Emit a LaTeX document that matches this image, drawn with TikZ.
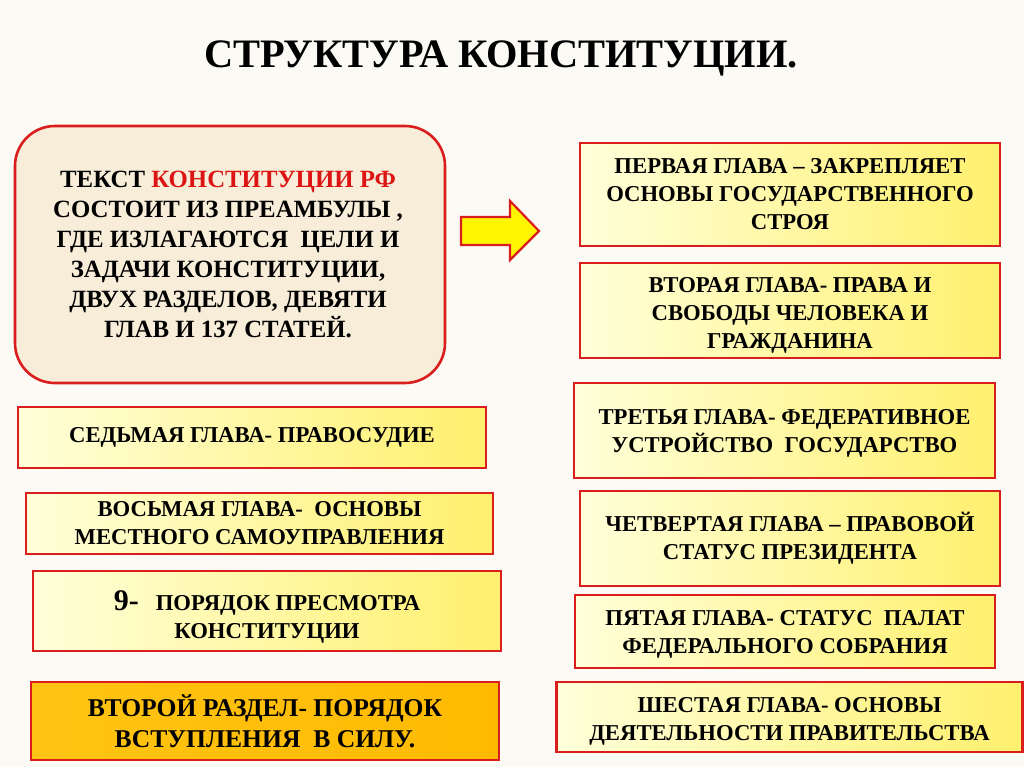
\documentclass[tikz,border=0pt]{standalone}
\usepackage{fontspec}
\setmainfont{Liberation Serif}
\definecolor{bg}{RGB}{252,250,245}
\definecolor{bred}{RGB}{218,30,30}
\definecolor{ylo}{RGB}{255,255,218}
\definecolor{yhi}{RGB}{255,240,110}
\definecolor{parch}{RGB}{247,237,216}
\definecolor{orng}{RGB}{255,196,20}
\definecolor{orng2}{RGB}{255,186,0}
\definecolor{redtxt}{RGB}{220,20,20}
\definecolor{arrowy}{RGB}{255,245,0}
\tikzset{
  ybox/.style={draw=bred, line width=2.6pt, left color=ylo, right color=yhi,
    inner sep=0pt, align=center, font=\bfseries\fontsize{22.7}{28}\selectfont},
  obox/.style={draw=bred, line width=2.6pt, left color=orng, right color=orng2,
    inner sep=0pt, align=center, font=\bfseries\fontsize{25.6}{31}\selectfont},
  bigbox/.style={draw=bred, line width=2.6pt, fill=parch, rounded corners=40pt,
    inner sep=0pt, align=center, font=\bfseries\fontsize{24.8}{30}\selectfont},
  intext/.style={inner sep=0pt, align=center, font=\bfseries\fontsize{22.7}{28}\selectfont},
  titletext/.style={font=\bfseries\fontsize{40.4}{44}\selectfont, inner sep=0pt}
}
\begin{document}
\begin{tikzpicture}[x=1pt,y=-1pt]
\fill[bg] (0,0) rectangle (1024,767);
\useasboundingbox (0,0) rectangle (1024,767);

\node[titletext] (title) at (501,58) {СТРУКТУРА КОНСТИТУЦИИ.};

\node[bigbox, minimum width=430pt, minimum height=257pt] (big) at (230,254.5) {};
\node[inner sep=0pt, align=center, font=\bfseries\fontsize{24.8}{30}\selectfont] (bigt) at ([xshift=-2pt]big.center)
  {ТЕКСТ \textcolor{redtxt}{КОНСТИТУЦИИ РФ}\\
   СОСТОИТ ИЗ ПРЕАМБУЛЫ ,\\
   ГДЕ ИЗЛАГАЮТСЯ\ \ ЦЕЛИ И\\
   ЗАДАЧИ КОНСТИТУЦИИ,\\
   ДВУХ РАЗДЕЛОВ, ДЕВЯТИ\\
   ГЛАВ И 137 СТАТЕЙ.};

\fill[arrowy, draw=bred, line width=2.2pt, line join=miter]
  (461,217) -- (510,217) -- (510,201) -- (539,231) -- (510,260) -- (510,245) -- (461,245) -- cycle;

\node[ybox, minimum width=420pt, minimum height=103pt] (r1) at (790,194.5)
  {ПЕРВАЯ ГЛАВА – ЗАКРЕПЛЯЕТ\\ ОСНОВЫ ГОСУДАРСТВЕННОГО\\ СТРОЯ};
\node[ybox, minimum width=420pt, minimum height=95pt] (r2) at (790,310.5) {};
\node[intext] (r2t) at ([yshift=-4.5pt]r2.center)
  {ВТОРАЯ ГЛАВА- ПРАВА И\\ СВОБОДЫ ЧЕЛОВЕКА И\\ ГРАЖДАНИНА};
\node[ybox, minimum width=421pt, minimum height=95pt] (r3) at (784.5,430.5) {};
\node[intext] (r3t) at ([yshift=-3pt]r3.center)
  {ТРЕТЬЯ ГЛАВА- ФЕДЕРАТИВНОЕ\\ УСТРОЙСТВО\ \ ГОСУДАРСТВО};
\node[ybox, minimum width=420pt, minimum height=95pt] (r4) at (790,538.5)
  {ЧЕТВЕРТАЯ ГЛАВА – ПРАВОВОЙ\\ СТАТУС ПРЕЗИДЕНТА};
\node[ybox, minimum width=420pt, minimum height=73pt] (r5) at (785,631.5) {};
\node[intext] (r5t) at ([yshift=-3pt]r5.center)
  {ПЯТАЯ ГЛАВА- СТАТУС\ \ ПАЛАТ\\ ФЕДЕРАЛЬНОГО СОБРАНИЯ};
\node[ybox, minimum width=466pt, minimum height=70pt] (r6) at (789.5,717) {};
\node[intext] (r6t) at ([yshift=-4pt]r6.center)
  {ШЕСТАЯ ГЛАВА- ОСНОВЫ\\ ДЕЯТЕЛЬНОСТИ ПРАВИТЕЛЬСТВА};

\node[ybox, minimum width=468pt, minimum height=61pt] (l7) at (252,437.5)
  {СЕДЬМАЯ ГЛАВА- ПРАВОСУДИЕ};
\node[ybox, minimum width=467pt, minimum height=61pt] (l8) at (259.5,523.5)
  {ВОСЬМАЯ ГЛАВА-\ \ ОСНОВЫ\\ МЕСТНОГО САМОУПРАВЛЕНИЯ};
\node[ybox, minimum width=468pt, minimum height=80pt] (l9) at (267,611) {};
\node[intext] (l9t) at ([yshift=-6pt]l9.center)
  {{\fontsize{30}{30}\selectfont 9-}\ \ \ ПОРЯДОК ПРЕСМОТРА\\ КОНСТИТУЦИИ};
\node[obox, minimum width=468pt, minimum height=78pt] (l10) at (265,721)
  {ВТОРОЙ РАЗДЕЛ- ПОРЯДОК\\ ВСТУПЛЕНИЯ\ \ В СИЛУ.};
\end{tikzpicture}
\end{document}
